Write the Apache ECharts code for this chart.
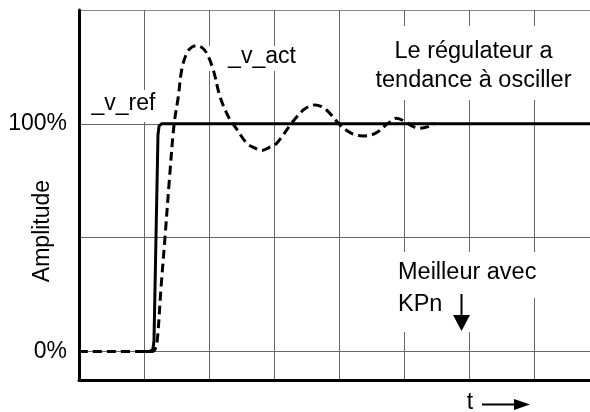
<!DOCTYPE html>
<html>
<head>
<meta charset="utf-8">
<title>Amplitude – _v_ref / _v_act</title>
<script src="https://cdn.jsdelivr.net/npm/echarts@6/dist/echarts.min.js"></script>
<style>
  html, body { margin: 0; padding: 0; background: #fff; }
  #chart { width: 590px; height: 412px; }
</style>
</head>
<body>
<div id="chart"></div>
<script>
// Time in grid divisions, amplitude in percent of the setpoint.
const refTime = [1.0, 1.092, 1.138, 1.154, 1.215, 1.231, 1.269, 7.862];
const refValue = [0, 0, 1, 5, 95, 99, 100, 100];

const actTime = [0, 1.123, 1.177, 1.208, 1.262, 1.323, 1.392, 1.462, 1.528, 1.580,
  1.657, 1.731, 1.811, 1.888, 1.965, 2.066, 2.169, 2.297, 2.400, 2.580,
  2.692, 2.811, 2.923, 3.042, 3.272, 3.451, 3.542, 3.631, 3.723, 3.835,
  3.989, 4.143, 4.262, 4.374, 4.492, 4.605, 4.758, 4.888, 5.015, 5.143,
  5.246, 5.374, 5.477];
const actValue = [0, 0, 1.5, 6, 28, 50, 76, 99.6, 112, 123.7,
  131, 133.6, 134.3, 133.6, 131, 123.7, 112, 103.2, 98.8, 91.5,
  89.6, 88.3, 89.6, 91.5, 100.3, 106.1, 107.7, 108.3, 107.7, 105.4,
  100.3, 96.6, 95.1, 94.7, 95.1, 96.6, 100.3, 102.5, 101, 98.8,
  98.1, 98.8, 100.3];

const yTickLabels = { 0: '0%', 100: '100%' };

const FONT = "'Liberation Sans', Arial, Helvetica, sans-serif";
const GRID = '#666';
const NONE = 'rgba(0,0,0,0)';

function pairs(xs, ys) { return xs.map((x, i) => [x, ys[i]]); }

// Horizontal grid lines only at 0 %, 50 %, 100 % and the top edge (150 %).
const yLineColors = [NONE, GRID, NONE, NONE, NONE, GRID, NONE, NONE, NONE, GRID, NONE, NONE, NONE, '#888'];

const chart = echarts.init(document.getElementById('chart'), null, { renderer: 'canvas' });

chart.setOption({
  animation: false,
  backgroundColor: '#fff',
  grid: { left: 79, right: 0, top: 10, bottom: 32, containLabel: false },
  xAxis: {
    type: 'value', min: 0, max: 7.862, interval: 1,
    axisLine: { show: true, onZero: false, lineStyle: { color: '#000', width: 3 } },
    axisTick: { show: false },
    axisLabel: { show: false },
    splitLine: { show: true, showMaxLine: false, lineStyle: { color: GRID, width: 1 } }
  },
  yAxis: {
    type: 'value', min: -12.5, max: 150, interval: 12.5,
    axisLine: { show: true, onZero: false, lineStyle: { color: '#000', width: 3 } },
    axisTick: { show: false },
    axisLabel: {
      show: true, margin: 12, color: '#000', fontSize: 23, fontFamily: FONT,
      formatter: v => yTickLabels[v] || ''
    },
    splitLine: { show: true, lineStyle: { color: yLineColors, width: 1 } }
  },
  series: [
    {
      name: '_v_ref', type: 'line', z: 3,
      data: pairs(refTime, refValue),
      showSymbol: false, smooth: false,
      lineStyle: { color: '#000', width: 3, join: 'round' }
    },
    {
      name: '_v_act', type: 'line', z: 4,
      data: pairs(actTime, actValue),
      showSymbol: false, smooth: 0.35,
      lineStyle: { color: '#000', width: 3, type: [9, 5] }
    }
  ],
  graphic: [
    // white panels behind the annotations
    { type: 'rect', z: 1, shape: { x: 84, y: 90, width: 80, height: 32 }, style: { fill: '#fff' } },
    { type: 'rect', z: 1, shape: { x: 207, y: 46, width: 97, height: 25 }, style: { fill: '#fff' } },
    { type: 'rect', z: 1, shape: { x: 360, y: 26, width: 226, height: 74 }, style: { fill: '#fff' } },
    { type: 'rect', z: 1, shape: { x: 392, y: 252, width: 152, height: 46 }, style: { fill: '#fff' } },
    { type: 'rect', z: 1, shape: { x: 392, y: 296, width: 88, height: 36 }, style: { fill: '#fff' } },

    // curve names
    { type: 'text', z: 5, x: 123.5, y: 104,
      style: { text: '_v_ref', font: '23px ' + FONT, fill: '#000', align: 'center', verticalAlign: 'middle' } },
    { type: 'text', z: 5, x: 262, y: 56.5,
      style: { text: '_v_act', font: '23px ' + FONT, fill: '#000', align: 'center', verticalAlign: 'middle' } },

    // notes
    { type: 'text', z: 5, x: 473.5, y: 66.5,
      style: { text: 'Le régulateur a\ntendance à osciller', font: '23.5px ' + FONT, lineHeight: 29,
               fill: '#000', align: 'center', verticalAlign: 'middle' } },
    { type: 'text', z: 5, x: 398, y: 272.5,
      style: { text: 'Meilleur avec', font: '23.5px ' + FONT, fill: '#000', align: 'left', verticalAlign: 'middle' } },
    { type: 'text', z: 5, x: 398, y: 304.5,
      style: { text: 'KPn', font: '23.5px ' + FONT, fill: '#000', align: 'left', verticalAlign: 'middle' } },
    { type: 'line', z: 5, shape: { x1: 461.5, y1: 294, x2: 461.5, y2: 316 }, style: { stroke: '#000', lineWidth: 2 } },
    { type: 'polygon', z: 5, shape: { points: [[453, 315], [470, 315], [461.5, 331]] }, style: { fill: '#000' } },

    // axis titles
    { type: 'text', z: 5, x: 43, y: 231, rotation: Math.PI / 2,
      style: { text: 'Amplitude', font: '23px ' + FONT, fill: '#000', align: 'center', verticalAlign: 'middle' } },
    { type: 'text', z: 5, x: 470, y: 403,
      style: { text: 't', font: '23px ' + FONT, fill: '#000', align: 'center', verticalAlign: 'middle' } },
    { type: 'line', z: 5, shape: { x1: 482, y1: 404.5, x2: 516, y2: 404.5 }, style: { stroke: '#000', lineWidth: 2 } },
    { type: 'polygon', z: 5, shape: { points: [[514, 399], [514, 410], [530, 404.5]] }, style: { fill: '#000' } }
  ]
});
</script>
</body>
</html>
